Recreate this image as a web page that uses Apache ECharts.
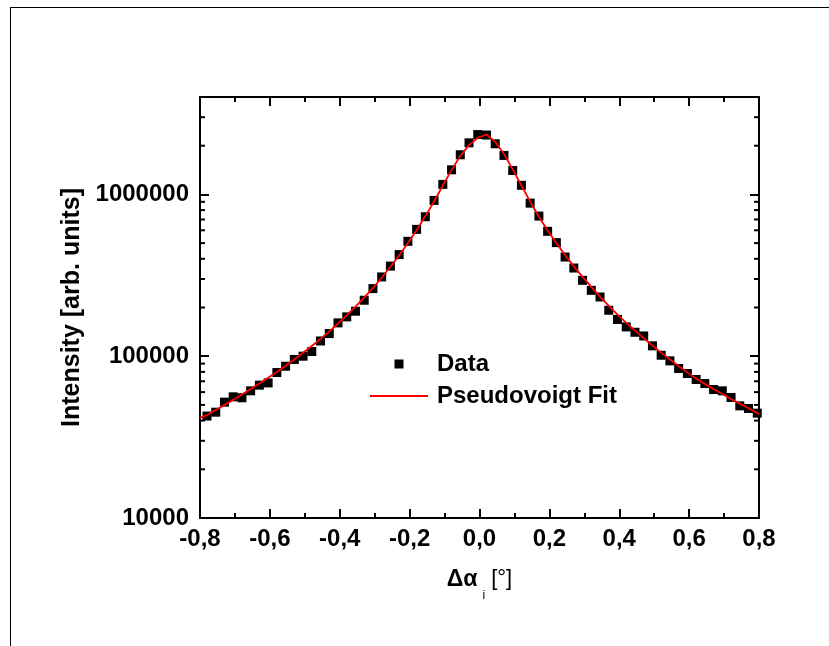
<!DOCTYPE html>
<html>
<head>
<meta charset="utf-8">
<script src="https://cdn.jsdelivr.net/npm/echarts@6/dist/echarts.min.js"></script>
<style>
  html, body { margin: 0; padding: 0; background: #fff; }
  #frame { position: absolute; left: 10px; top: 7px; width: 830px; height: 650px;
           border-left: 1px solid #000; border-top: 1px solid #000; }
  #chart { position: absolute; left: 0; top: 0; width: 829px; height: 646px; }
</style>
</head>
<body>
<div id="frame"></div>
<div id="chart"></div>
<script>
// ---- Data ----
const dataX = [
  -0.780, -0.755, -0.730, -0.705, -0.680, -0.655, -0.630, -0.605,
  -0.580, -0.555, -0.530, -0.505, -0.480, -0.455, -0.430, -0.405,
  -0.380, -0.355, -0.330, -0.305, -0.280, -0.255, -0.230, -0.205,
  -0.180, -0.155, -0.130, -0.105, -0.080, -0.055, -0.030, -0.005,
   0.020,  0.045,  0.070,  0.095,  0.120,  0.145,  0.170,  0.195,
   0.220,  0.245,  0.270,  0.295,  0.320,  0.345,  0.370,  0.395,
   0.420,  0.445,  0.470,  0.495,  0.520,  0.545,  0.570,  0.595,
   0.620,  0.645,  0.670,  0.695,  0.720,  0.745,  0.770,  0.795
];
const dataY = [
  42660, 45080, 52000, 56100, 55340, 61090, 66220, 68390,
  79250, 86700, 95500, 100000, 106900, 124200, 138000, 160700,
  175000, 189700, 221800, 261800, 309000, 360600, 424600, 512900,
  608100, 727800, 918300, 1153000, 1419000, 1758000, 2084000, 2344000,
  2328000, 2056000, 1742000, 1406000, 1138000, 883100, 734500, 591600,
  503500, 410200, 350800, 294400, 255300, 232300, 192300, 168700,
  151700, 140600, 133400, 115900, 101400, 93540, 83950, 78160,
  71780, 67760, 62230, 61090, 55590, 49320, 47530, 44460
];
const fitX = [-0.8].concat(dataX, [0.8]);
const fitY = [
  41590,
  43250, 46450, 49890, 53700, 57940, 62660, 67760, 73620,
  79980, 87300, 95500, 105000, 115600, 127900, 142200, 159200,
  178600, 202300, 230100, 264200, 305500, 357300, 419800, 501200,
  601200, 734500, 903600, 1135000, 1413000, 1730000, 2018000, 2239000,
  2344000, 2113000, 1778000, 1429000, 1135000, 901600, 727800, 598400,
  500000, 421700, 358900, 309000, 267900, 233300, 204600, 180700,
  160700, 143900, 129400, 116400, 105200, 95500, 86900, 79430,
  72780, 67450, 62660, 58340, 54450, 50930, 47640, 44670,
  43850
];
const xMin = -0.8, xMax = 0.8, xInterval = 0.2;
const yMin = 10000, yMax = 4000000;
const yMinorTicks = [
  20000, 30000, 40000, 50000, 60000, 70000, 80000, 90000,
  200000, 300000, 400000, 500000, 600000, 700000, 800000, 900000,
  2000000, 3000000
];
const seriesNames = ['Data', 'Pseudovoigt Fit'];

// ---- Chart ----
const FONT = '"Liberation Sans", Arial, sans-serif';
const chart = echarts.init(document.getElementById('chart'), null, { renderer: 'canvas' });

const axisLineStyle = { color: '#000', width: 2 };
function xLabel(v) {
  if (Math.abs(v) < 1e-9) v = 0;
  return v.toFixed(1).replace('.', ',');
}
function yLabel(v) {
  const l = Math.log10(v);
  if (Math.abs(l - Math.round(l)) > 1e-6) return '';
  return String(Math.round(v));
}

const xAxisCommon = {
  type: 'value', min: xMin, max: xMax, interval: xInterval,
  axisLine: { show: true, onZero: false, lineStyle: axisLineStyle },
  axisTick: { show: true, inside: true, length: 9, lineStyle: { color: '#000', width: 2 } },
  minorTick: { show: true, splitNumber: 2, length: 5, lineStyle: { color: '#000', width: 2 } },
  splitLine: { show: false }, minorSplitLine: { show: false }
};
const yAxisCommon = {
  type: 'log', logBase: 10, min: yMin, max: yMax,
  axisLine: { show: true, onZero: false, lineStyle: axisLineStyle },
  axisTick: { show: true, inside: true, length: 9, lineStyle: { color: '#000', width: 2 } },
  minorTick: { show: false },
  splitLine: { show: false }
};

const option = {
  animation: false,
  backgroundColor: 'transparent',
  grid: { left: 200, right: 70, top: 97, bottom: 128, outerBoundsMode: 'none', containLabel: false },
  legend: {
    orient: 'vertical', left: 370, top: 352, padding: 0,
    itemWidth: 58, itemHeight: 9, itemGap: 8,
    symbolKeepAspect: true,
    textStyle: { fontFamily: FONT, fontWeight: 'bold', fontSize: 24, color: '#000', padding: [0, 0, 0, 4] },
    data: [
      { name: seriesNames[0], icon: 'path://M0,0L1,0L1,1L0,1Z', itemStyle: { color: '#000' } },
      { name: seriesNames[1], icon: 'path://M0,0L29,0L29,1L0,1Z', itemStyle: { color: '#ff0000' } }
    ]
  },
  xAxis: [
    Object.assign({}, xAxisCommon, {
      position: 'bottom',
      axisLabel: { show: true, margin: 9, fontFamily: FONT, fontWeight: 'bold', fontSize: 24, color: '#000', formatter: xLabel },
      name: '{a|Δα}{s|i}{b| [°]}', nameLocation: 'middle', nameGap: 50,
      nameTextStyle: {
        rich: {
          a: { fontFamily: FONT, fontWeight: 'bold', fontSize: 23, color: '#000', lineHeight: 24, verticalAlign: 'top' },
          s: { fontFamily: FONT, fontSize: 12, color: '#000', lineHeight: 12, padding: [22, 0, 0, 5], verticalAlign: 'top' },
          b: { fontFamily: FONT, fontSize: 22, color: '#000', lineHeight: 24, verticalAlign: 'top' }
        }
      }
    }),
    Object.assign({}, xAxisCommon, { position: 'top', axisLabel: { show: false } })
  ],
  yAxis: [
    Object.assign({}, yAxisCommon, {
      position: 'left',
      axisLabel: { show: true, margin: 11, fontFamily: FONT, fontWeight: 'bold', fontSize: 24, color: '#000', formatter: yLabel, showMaxLabel: false },
      name: 'Intensity [arb. units]', nameLocation: 'middle', nameGap: 114, nameRotate: 90,
      nameTextStyle: { fontFamily: FONT, fontWeight: 'bold', fontSize: 25, color: '#000' }
    }),
    Object.assign({}, yAxisCommon, { position: 'right', axisLabel: { show: false } })
  ],
  series: [
    {
      name: seriesNames[0], type: 'scatter', xAxisIndex: 0, yAxisIndex: 0,
      symbol: 'rect', symbolSize: 9,
      itemStyle: { color: '#000', opacity: 1 },
      data: dataX.map((x, i) => [x, dataY[i]]),
      z: 2
    },
    {
      name: seriesNames[1], type: 'line', xAxisIndex: 0, yAxisIndex: 0,
      symbol: 'none', showSymbol: false, smooth: false, clip: true,
      lineStyle: { color: '#ff0000', width: 1.8 },
      itemStyle: { color: '#ff0000' },
      data: fitX.map((x, i) => [x, fitY[i]]),
      z: 3
    },
    {
      type: 'custom', xAxisIndex: 0, yAxisIndex: 0, silent: true, clip: false,
      legendHoverLink: false,
      data: yMinorTicks.map(v => [xMin, v]),
      encode: { x: 0, y: 1 },
      renderItem: function (params, api) {
        const v = api.value(1);
        const pL = api.coord([xMin, v]);
        const pR = api.coord([xMax, v]);
        const st = { stroke: '#000', lineWidth: 2 };
        return {
          type: 'group',
          children: [
            { type: 'line', shape: { x1: pL[0], y1: pL[1], x2: pL[0] + 5, y2: pL[1] }, style: st },
            { type: 'line', shape: { x1: pR[0], y1: pR[1], x2: pR[0] - 5, y2: pR[1] }, style: st }
          ]
        };
      },
      z: 4
    }
  ]
};
chart.setOption(option);
</script>
</body>
</html>
